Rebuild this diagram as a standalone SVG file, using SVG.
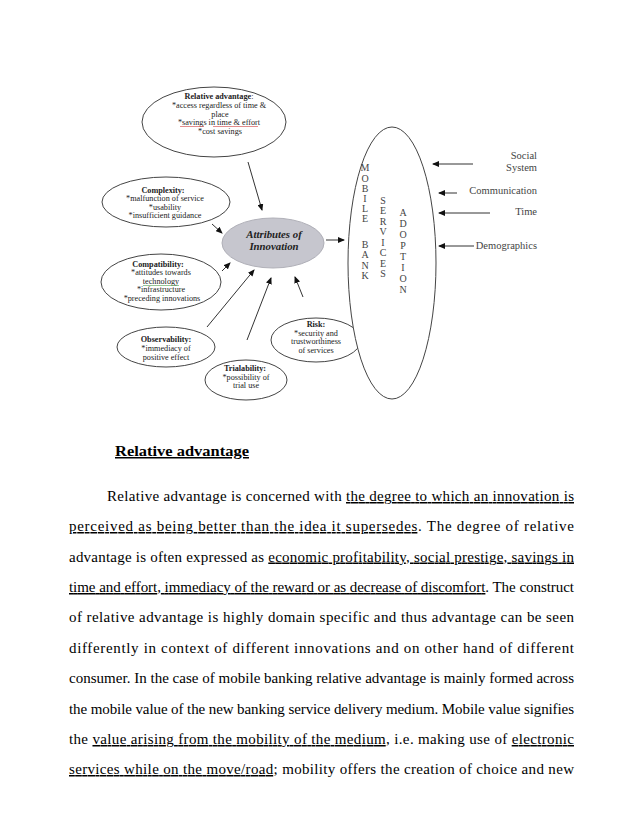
<svg xmlns="http://www.w3.org/2000/svg" width="638" height="826" viewBox="0 0 638 826">
<style>
.bg{fill:#ffffff}
.node{fill:#ffffff;stroke:#444;stroke-width:1}
.core{fill:#c6c6ce;stroke:#b0b0b8;stroke-width:1}
.nt{font-family:"Liberation Serif",serif;font-size:8.2px;fill:#222;text-anchor:middle}
.nb{font-weight:bold}
.ct{font-family:"Liberation Serif",serif;font-size:10.8px;font-weight:bold;font-style:italic;fill:#222;text-anchor:middle}
.lt{font-family:"Liberation Serif",serif;font-size:10px;fill:#444;text-anchor:middle}
.rl{font-family:"Liberation Serif",serif;font-size:10.5px;fill:#444;text-anchor:end}
.conn{stroke:#333;stroke-width:1;fill:none;marker-end:url(#ah)}
.body{font-family:"Liberation Serif",serif;font-size:15px;fill:#000}
.u{text-decoration:underline}
</style>
<defs>
<marker id="ah" markerWidth="7" markerHeight="6" refX="6" refY="3" orient="auto" markerUnits="userSpaceOnUse">
<path d="M0,0 L7,3 L0,6 z" fill="#111"/>
</marker>
</defs>
<rect class="bg" x="0" y="0" width="638" height="826"/>

<g id="connectors">
<line class="conn" x1="248" y1="162" x2="262" y2="210"/>
<line class="conn" x1="212" y1="224" x2="222" y2="233"/>
<line class="conn" x1="222" y1="271" x2="230" y2="263"/>
<line class="conn" x1="207" y1="327" x2="254" y2="270"/>
<line class="conn" x1="247" y1="340" x2="271" y2="278"/>
<line class="conn" x1="303" y1="297" x2="295" y2="277"/>
<line class="conn" x1="326" y1="240" x2="344" y2="240"/>
<line class="conn" x1="473" y1="164" x2="433" y2="164"/>
<line class="conn" x1="457" y1="193" x2="439" y2="193"/>
<line class="conn" x1="490" y1="213" x2="439" y2="213"/>
<line class="conn" x1="474" y1="246" x2="439" y2="246"/>
</g>

<g id="node-relative-advantage">
<ellipse class="node" cx="214" cy="122" rx="72" ry="35"/>
<text class="nt" x="219" y="99"><tspan class="nb">Relative advantage</tspan>:</text>
<text class="nt" x="219" y="108">*access regardless of time &amp;</text>
<text class="nt" x="220" y="116.5">place</text>
<text class="nt" x="219" y="125">*savings in time &amp; effort</text>
<text class="nt" x="220" y="133.5">*cost savings</text>
<line x1="180" y1="126.5" x2="204" y2="126.5" stroke="#d04040" stroke-width="0.6"/>
<line x1="213" y1="126.5" x2="258" y2="126.5" stroke="#d04040" stroke-width="0.6"/>
</g>

<g id="node-complexity">
<ellipse class="node" cx="166" cy="202" rx="64" ry="25"/>
<text class="nt" x="163" y="192.5"><tspan class="nb">Complexity:</tspan></text>
<text class="nt" x="165" y="201">*malfunction of service</text>
<text class="nt" x="165" y="209.5">*usability</text>
<text class="nt" x="165" y="218">*insufficient guidance</text>
</g>

<g id="node-compatibility">
<ellipse class="node" cx="161" cy="282" rx="60" ry="28"/>
<text class="nt" x="158" y="267"><tspan class="nb">Compatibility:</tspan></text>
<text class="nt" x="161" y="275">*attitudes towards</text>
<text class="nt" x="161" y="283.5">technology</text>
<text class="nt" x="161" y="292">*infrastructure</text>
<text class="nt" x="162" y="300.5">*preceding innovations</text>
<line x1="143" y1="285.5" x2="179" y2="285.5" stroke="#50a050" stroke-width="0.6"/>
</g>

<g id="node-attributes">
<ellipse class="core" cx="273" cy="243" rx="51" ry="25"/>
<text class="ct" x="274" y="238">Attributes of</text>
<text class="ct" x="274" y="249.5">Innovation</text>
</g>

<g id="node-observability">
<ellipse class="node" cx="166" cy="347" rx="49" ry="20"/>
<text class="nt" x="166" y="342"><tspan class="nb">Observability:</tspan></text>
<text class="nt" x="166" y="351">*immediacy of</text>
<text class="nt" x="166" y="360">positive effect</text>
</g>

<g id="node-trialability">
<ellipse class="node" cx="246" cy="380" rx="41" ry="20"/>
<text class="nt" x="245" y="371"><tspan class="nb">Trialability:</tspan></text>
<text class="nt" x="246" y="379.5">*possibility of</text>
<text class="nt" x="246" y="388">trial use</text>
</g>

<g id="node-risk">
<ellipse class="node" cx="316" cy="340" rx="45" ry="22"/>
<text class="nt" x="316" y="327"><tspan class="nb">Risk:</tspan></text>
<text class="nt" x="316" y="335.5">*security and</text>
<text class="nt" x="316" y="344">trustworthiness</text>
<text class="nt" x="316" y="352.5">of services</text>
</g>

<g id="node-mobile-bank-services-adoption">
<ellipse class="node" cx="392" cy="263" rx="44" ry="136"/>
<text class="lt" x="365" y="171">M</text>
<text class="lt" x="365" y="181.5">O</text>
<text class="lt" x="365" y="192">B</text>
<text class="lt" x="365" y="202">I</text>
<text class="lt" x="365" y="212">L</text>
<text class="lt" x="365" y="222">E</text>
<text class="lt" x="365" y="247.5">B</text>
<text class="lt" x="365" y="258">A</text>
<text class="lt" x="365" y="268.5">N</text>
<text class="lt" x="365" y="279">K</text>
<text class="lt" x="383" y="203.5">S</text>
<text class="lt" x="383" y="214">E</text>
<text class="lt" x="383" y="224.5">R</text>
<text class="lt" x="383" y="235">V</text>
<text class="lt" x="383" y="245.5">I</text>
<text class="lt" x="383" y="256">C</text>
<text class="lt" x="383" y="266.5">E</text>
<text class="lt" x="383" y="277">S</text>
<text class="lt" x="403" y="216">A</text>
<text class="lt" x="403" y="227">D</text>
<text class="lt" x="403" y="238">O</text>
<text class="lt" x="403" y="249">P</text>
<text class="lt" x="403" y="260">T</text>
<text class="lt" x="403" y="271">I</text>
<text class="lt" x="403" y="282">O</text>
<text class="lt" x="403" y="293">N</text>
</g>

<g id="node-social-system">
<text class="rl" x="537" y="159">Social</text>
<text class="rl" x="537" y="171">System</text>
</g>
<g id="node-communication">
<text class="rl" x="537" y="194">Communication</text>
</g>
<g id="node-time">
<text class="rl" x="537" y="215">Time</text>
</g>
<g id="node-demographics">
<text class="rl" x="537" y="249">Demographics</text>
</g>

<g id="body-text">
<text class="body" x="115" y="456" font-weight="bold" textLength="134" lengthAdjust="spacingAndGlyphs"><tspan class="u">Relative advantage</tspan></text>
<text class="body" x="107" y="501" textLength="467" lengthAdjust="spacing">Relative advantage is concerned with <tspan class="u">the degree to which an innovation is</tspan></text>
<text class="body" x="69" y="531" textLength="505" lengthAdjust="spacing"><tspan class="u">perceived as being better than the idea it supersedes</tspan>. The degree of relative</text>
<text class="body" x="69" y="561.5" textLength="505" lengthAdjust="spacing">advantage is often expressed as <tspan class="u">economic profitability, social prestige, savings in</tspan></text>
<text class="body" x="69" y="592" textLength="505" lengthAdjust="spacing"><tspan class="u">time and effort, immediacy of the reward or as decrease of discomfort</tspan>. The construct</text>
<text class="body" x="69" y="622" textLength="505" lengthAdjust="spacing">of relative advantage is highly domain specific and thus advantage can be seen</text>
<text class="body" x="69" y="653" textLength="505" lengthAdjust="spacing">differently in context of different innovations and on other hand of different</text>
<text class="body" x="69" y="683" textLength="505" lengthAdjust="spacing">consumer. In the case of mobile banking relative advantage is mainly formed across</text>
<text class="body" x="69" y="713.5" textLength="505" lengthAdjust="spacing">the mobile value of the new banking service delivery medium. Mobile value signifies</text>
<text class="body" x="69" y="744" textLength="505" lengthAdjust="spacing">the <tspan class="u">value arising from the mobility of the medium</tspan>, i.e. making use of <tspan class="u">electronic</tspan></text>
<text class="body" x="69" y="774" textLength="505" lengthAdjust="spacing"><tspan class="u">services while on the move/road</tspan>; mobility offers the creation of choice and new</text>
</g>
</svg>
